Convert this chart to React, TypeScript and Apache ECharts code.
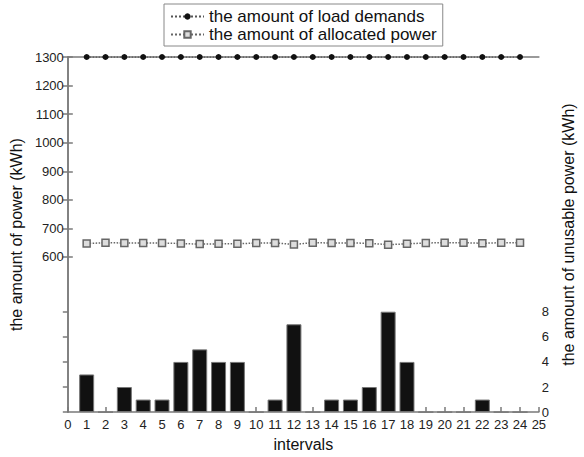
import React, { useEffect, useRef } from "react";
import * as echarts from "echarts";

const intervals = [1, 2, 3, 4, 5, 6, 7, 8, 9, 10, 11, 12, 13, 14, 15, 16, 17, 18, 19, 20, 21, 22, 23, 24];
const loadDemands = [1300, 1300, 1300, 1300, 1300, 1300, 1300, 1300, 1300, 1300, 1300, 1300, 1300, 1300, 1300, 1300, 1300, 1300, 1300, 1300, 1300, 1300, 1300, 1300];
const allocatedPower = [647, 650, 649, 649, 649, 647, 645, 646, 646, 649, 649, 644, 650, 649, 649, 648, 643, 646, 649, 650, 650, 648, 650, 650];
const unusablePower = [3, 0, 2, 1, 1, 4, 5, 4, 4, 0, 1, 7, 0, 1, 1, 2, 8, 4, 0, 0, 0, 1, 0, 0];
const xTicks = [0, 1, 2, 3, 4, 5, 6, 7, 8, 9, 10, 11, 12, 13, 14, 15, 16, 17, 18, 19, 20, 21, 22, 23, 24, 25];
const leftTicks = [600, 700, 800, 900, 1000, 1100, 1200, 1300];
const rightTicks = [0, 2, 4, 6, 8];

const LEFT_MIN = 57;
const LEFT_MAX = 1300;
const RIGHT_MIN = 0;
const RIGHT_MAX = 28.3;

const FONT = "Liberation Sans";
const AXIS = "#7a7a7a";

// positions of the left-axis ticks mirrored on the right axis (box ticks)
const mirroredTicks = leftTicks.map(
  (v) => RIGHT_MIN + ((v - LEFT_MIN) / (LEFT_MAX - LEFT_MIN)) * (RIGHT_MAX - RIGHT_MIN)
);

export default function App() {
  const ref = useRef<HTMLDivElement>(null);
  useEffect(() => {
    const chart = echarts.init(ref.current!, undefined, { renderer: "svg" });
    const tickStyle = { show: true, inside: true, length: 5, lineStyle: { color: AXIS, width: 1.5 } };
    const labelStyle = { fontFamily: FONT, fontSize: 13, color: "#222" };
    chart.setOption({
      animation: false,
      grid: { left: 62, right: 41, top: 57, bottom: 43 },
      legend: {
        orient: "vertical",
        left: 164,
        top: 4,
        padding: [4, 6, 3, 6],
        itemGap: 1,
        itemWidth: 33,
        itemHeight: 8,
        borderColor: "#888",
        borderWidth: 1,
        textStyle: { fontFamily: FONT, fontSize: 17, color: "#111" },
        data: ["the amount of load demands", "the amount of allocated power"],
      },
      xAxis: [
        {
          type: "value",
          min: 0,
          max: 25,
          interval: 1,
          position: "bottom",
          name: "intervals",
          nameLocation: "middle",
          nameGap: 21,
          nameTextStyle: { fontFamily: FONT, fontSize: 16, color: "#111" },
          axisLine: { show: true, lineStyle: { color: AXIS, width: 1.5 } },
          axisTick: tickStyle,
          splitLine: { show: false },
          axisLabel: { ...labelStyle, margin: 6, customValues: xTicks },
        },
        {
          type: "value",
          min: 0,
          max: 25,
          position: "top",
          axisLine: { show: true, lineStyle: { color: AXIS, width: 1.5 } },
          axisTick: { show: false },
          axisLabel: { show: false },
          splitLine: { show: false },
        },
      ],
      yAxis: [
        {
          type: "value",
          min: LEFT_MIN,
          max: LEFT_MAX,
          position: "left",
          name: "the amount of power (kWh)",
          nameLocation: "middle",
          nameGap: 40,
          nameTextStyle: { fontFamily: FONT, fontSize: 16, color: "#111" },
          axisLine: { show: true, lineStyle: { color: AXIS, width: 1.5 } },
          axisTick: { ...tickStyle, customValues: leftTicks },
          axisLabel: { ...labelStyle, margin: 4, customValues: leftTicks, formatter: (v: number) => String(v) },
          splitLine: { show: false },
        },
        {
          type: "value",
          min: RIGHT_MIN,
          max: RIGHT_MAX,
          position: "right",
          name: "the amount of unusable power (kWh)",
          nameLocation: "middle",
          nameGap: 17,
          nameRotate: 90,
          nameTextStyle: { fontFamily: FONT, fontSize: 16, color: "#111" },
          axisLine: { show: true, lineStyle: { color: AXIS, width: 1.5 } },
          axisTick: { ...tickStyle, customValues: [...rightTicks, ...mirroredTicks] },
          axisLabel: { ...labelStyle, margin: 3, customValues: rightTicks, formatter: (v: number) => String(v) },
          splitLine: { show: false },
        },
      ],
      series: [
        {
          name: "unusable",
          type: "bar",
          xAxisIndex: 0,
          yAxisIndex: 1,
          barWidth: 15,
          itemStyle: { color: "#111", borderColor: "#777", borderWidth: 1 },
          data: intervals.map((x, i) => [x, unusablePower[i]]),
          z: 1,
        },
        {
          name: "the amount of load demands",
          type: "line",
          xAxisIndex: 0,
          yAxisIndex: 0,
          symbol: "circle",
          symbolSize: 6,
          itemStyle: { color: "#111" },
          lineStyle: { color: "#555", width: 1.5, type: "dotted" },
          data: intervals.map((x, i) => [x, loadDemands[i]]),
          z: 3,
        },
        {
          name: "the amount of allocated power",
          type: "line",
          xAxisIndex: 0,
          yAxisIndex: 0,
          symbol: "rect",
          symbolSize: 7,
          itemStyle: { color: "#ddd", borderColor: "#666", borderWidth: 1.5 },
          lineStyle: { color: "#666", width: 1.5, type: "dotted" },
          data: intervals.map((x, i) => [x, allocatedPower[i]]),
          z: 3,
        },
      ],
    });
    return () => chart.dispose();
  }, []);
  return <div ref={ref} style={{ width: 584, height: 457, position: "absolute", left: 0, top: 0, background: "#fff" }} />;
}
